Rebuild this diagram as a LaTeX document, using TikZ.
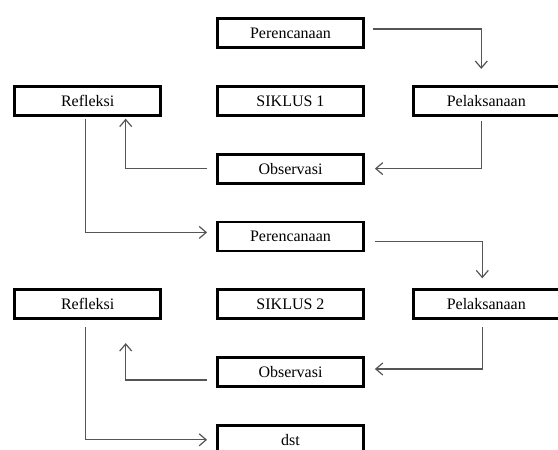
\documentclass[tikz,border=0pt]{standalone}
\usepackage{fontspec}
\setmainfont{Liberation Serif}
\usepackage{tikz}
\usetikzlibrary{arrows.meta,positioning}
\definecolor{lngray}{HTML}{555555}

\begin{document}
\begin{tikzpicture}[
      x=1pt,y=-1pt,
      font=\fontsize{16}{19}\selectfont,
      node distance=36pt and 50pt,
      box/.style={draw,line width=2.8pt,minimum width=146pt,minimum height=29pt,inner sep=2pt,fill=white},
      arrow/.style={-{Straight Barb[length=7pt,width=12pt]},draw=lngray,line width=1.2pt}
    ]
    \useasboundingbox (0,0) rectangle (558,450);
    \node[box] (per1) at (290.5,33) {Perencanaan};
    \node[box,below=of per1] (sik1) {SIKLUS 1};
    \node[box,left=54pt of sik1] (ref1) {Refleksi};
    \node[box,right=47pt of sik1] (pel1) {Pelaksanaan};
    \node[box,below=of sik1] (obs1) {Observasi};
    \node[box,below=of obs1] (per2) {Perencanaan};
    \node[box,below=of per2] (sik2) {SIKLUS 2};
    \node[box,left=54pt of sik2] (ref2) {Refleksi};
    \node[box,right=47pt of sik2] (pel2) {Pelaksanaan};
    \node[box,below=of sik2] (obs2) {Observasi};
    \node[box,below=of obs2] (dst) {dst};
    \draw[arrow,shorten <=8pt,shorten >=16pt] ([yshift=4pt]per1.east) -| ([xshift=-5pt]pel1.north);
    \draw[arrow,shorten <=4pt,shorten >=10pt] ([xshift=-5pt]pel1.south) |- (obs1.east);
    \draw[arrow,shorten <=9pt,shorten >=2pt] (obs1.west) -| ([xshift=38pt]ref1.south);
    \draw[arrow,shorten <=2pt,shorten >=9pt] ([xshift=-2pt]ref1.south) |- ([yshift=4pt]per2.west);
    \draw[arrow,shorten <=10pt,shorten >=10pt] ([yshift=-5pt]per2.east) -| ([xshift=-4pt]pel2.north);
    \draw[arrow,shorten <=7pt,shorten >=10pt] ([xshift=-4pt]pel2.south) |- ([yshift=3pt]obs2.east);
    \draw[arrow,shorten <=9pt,shorten >=23pt] ([yshift=-8pt]obs2.west) -| ([xshift=38pt]ref2.south);
    \draw[arrow,shorten <=7pt,shorten >=9pt] ([xshift=-2pt]ref2.south) |- (dst.west);
  \end{tikzpicture}
\end{document}
